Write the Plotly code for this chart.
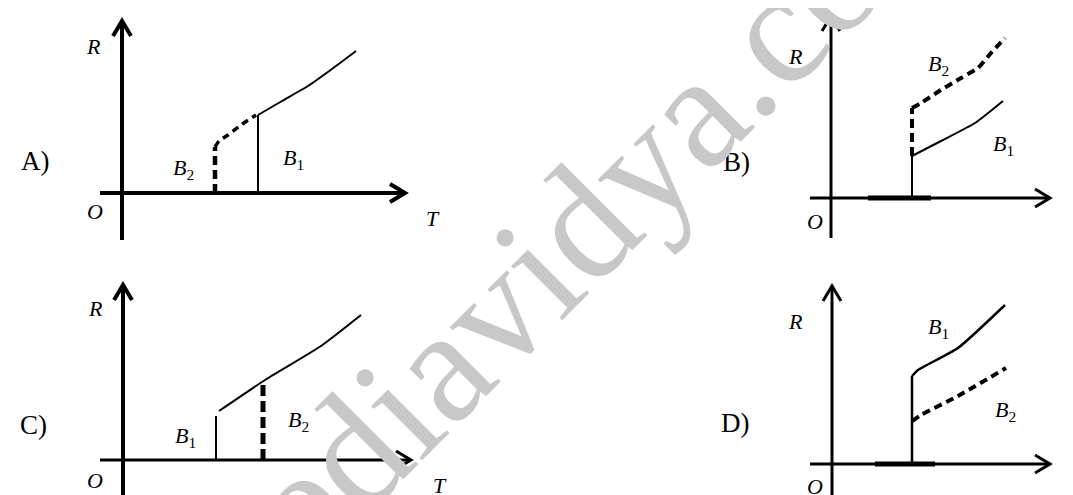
import plotly.graph_objects as go

W, H = 1073, 495

# ---------------- data (T, R) per panel, origin at axes crossing ----------------
panels = ["A)", "B)", "C)", "D)"]

# axis extents
A_axis_T = [-22, 283]; A_axis_R = [-47, 172]
B_axis_T = [-21, 219]; B_axis_R = [-40, 182]
C_axis_T = [-23, 288]; C_axis_R = [-43, 175]
D_axis_T = [-22, 218]; D_axis_R = [-39, 178]

# panel A
A_b1v_T = [136, 136]
A_b1v_R = [0, 78]
A_b1c_T = [136, 160, 186, 210, 234]
A_b1c_R = [78, 92, 107, 124, 142]
A_b2v_T = [93, 93]
A_b2v_R = [0, 46]
A_b2c_T = [93, 97, 106, 119, 134]
A_b2c_R = [46, 52, 58, 68, 78]

# panel B
B_flat_T = [37, 100]
B_b1v_T = [81, 81]
B_b1v_R = [0, 42]
B_b1c_T = [81, 110, 144, 172]
B_b1c_R = [42, 57, 75, 97]
B_b2v_T = [81, 81]
B_b2v_R = [42, 90]
B_b2c_T = [81, 90, 110, 130, 147, 160, 174]
B_b2c_R = [90, 95, 108, 120, 130, 145, 160]

# panel C
C_b1v_T = [93, 93]
C_b1v_R = [0, 44]
C_b1c_T = [96, 142, 198, 238]
C_b1c_R = [49, 80, 114, 145]
C_b2_T = [140, 140]
C_b2_R = [0, 79]

# panel D
D_flat_T = [43, 103]
D_b1v_T = [80, 80]
D_b1v_R = [0, 88]
D_b1c_T = [80, 86, 126, 173]
D_b1c_R = [88, 94, 116, 159]
D_b2_T = [80, 89, 126, 174]
D_b2_R = [43, 49, 68, 96]

# label positions (T, R)
labels = {
    1: [("<i>R</i>", -29, 147), ("<i>O</i>", -27, -18), ("<i>T</i>", 311, -25),
        ("A)", -87, 32), ("<i>B</i><sub>2</sub>", 61, 24), ("<i>B</i><sub>1</sub>", 171, 34)],
    2: [("<i>R</i>", -36, 142), ("<i>O</i>", -16, -23), ("<i>T</i>", 244, -23),
        ("B)", -95, 36), ("<i>B</i><sub>2</sub>", 107, 133), ("<i>B</i><sub>1</sub>", 172, 53)],
    3: [("<i>R</i>", -28, 152), ("<i>O</i>", -28, -20), ("<i>T</i>", 317, -25),
        ("C)", -90, 35), ("<i>B</i><sub>1</sub>", 62, 23), ("<i>B</i><sub>2</sub>", 175, 39)],
    4: [("<i>R</i>", -37, 143), ("<i>O</i>", -17, -22), ("<i>T</i>", 243, -22),
        ("D)", -97, 41), ("<i>B</i><sub>1</sub>", 106, 136), ("<i>B</i><sub>2</sub>", 173, 53)],
}

# page-pixel origin of each panel (layout only)
origins = {1: (114, 185), 2: (823, 190), 3: (115, 452), 4: (824, 456)}
axis_w = {1: (4, 4), 2: (3, 3), 3: (3, 4), 4: (3, 3)}  # (horizontal, vertical)

fig = go.Figure()


def ax(n):
    return ("x" if n == 1 else f"x{n}"), ("y" if n == 1 else f"y{n}")


def line(n, T, R, width=2, dash=None, smooth=False):
    xa, ya = ax(n)
    ln = dict(color="black", width=width, dash=dash)
    if smooth:
        ln.update(shape="spline", smoothing=0.5)
    fig.add_trace(go.Scatter(x=T, y=R, xaxis=xa, yaxis=ya, mode="lines", line=ln,
                             hoverinfo="skip", showlegend=False))


def axes(n, TT, RR):
    wh, wv = axis_w[n]
    line(n, TT, [0, 0], wh)
    line(n, [0, 0], RR, wv)
    a, b = 15, 9
    line(n, [TT[1] - a, TT[1], TT[1] - a], [b, 0, -b], wh)
    line(n, [-b, 0, b], [RR[1] - a, RR[1], RR[1] - a], wv)


# panel A
axes(1, A_axis_T, A_axis_R)
line(1, A_b1v_T, A_b1v_R, 2)
line(1, A_b1c_T, A_b1c_R, 2, smooth=True)
line(1, A_b2v_T, A_b2v_R, 4.5, "9px,5px")
line(1, A_b2c_T, A_b2c_R, 3.5, "7px,5px", smooth=True)

# panel B
axes(2, B_axis_T, B_axis_R)
line(2, B_flat_T, [0, 0], 5)
line(2, B_b1v_T, B_b1v_R, 2)
line(2, B_b1c_T, B_b1c_R, 2, smooth=True)
line(2, B_b2v_T, B_b2v_R, 4, "9px,5px")
line(2, B_b2c_T, B_b2c_R, 4, "8px,5px", smooth=True)

# panel C
axes(3, C_axis_T, C_axis_R)
line(3, C_b1v_T, C_b1v_R, 2)
line(3, C_b1c_T, C_b1c_R, 2, smooth=True)
line(3, C_b2_T, C_b2_R, 5, "11px,5px")

# panel D
axes(4, D_axis_T, D_axis_R)
line(4, D_flat_T, [0, 0], 5)
line(4, D_b1v_T, D_b1v_R, 2.5)
line(4, D_b1c_T, D_b1c_R, 2.5, smooth=True)
line(4, D_b2_T, D_b2_R, 4, "8px,5px", smooth=True)

annotations = []
for n, labs in labels.items():
    xa, ya = ax(n)
    for txt, t, r in labs:
        is_panel = txt in panels
        annotations.append(dict(
            text=txt, x=t, y=r, xref=xa, yref=ya, showarrow=False,
            xanchor="center", yanchor="middle",
            font=dict(family="Liberation Serif", size=27 if is_panel else 22, color="black")))

# watermark
annotations.append(dict(
    text="mediavidya.com", x=556 / W, y=1 - 234 / H, xref="paper", yref="paper",
    showarrow=False, textangle=-45, xanchor="center", yanchor="middle",
    font=dict(family="Liberation Serif", size=162, color="#c8c8c8")))

layout = dict(width=W, height=H, autosize=False,
              margin=dict(l=0, r=0, t=0, b=0),
              paper_bgcolor="white", plot_bgcolor="rgba(0,0,0,0)",
              showlegend=False, annotations=annotations)

for n, (ox, oy) in origins.items():
    xa, ya = ax(n)
    xk = "xaxis" if n == 1 else f"xaxis{n}"
    yk = "yaxis" if n == 1 else f"yaxis{n}"
    layout[xk] = dict(domain=[0, 1], range=[-ox, W - ox], visible=False, fixedrange=True, anchor=ya)
    layout[yk] = dict(domain=[0, 1], range=[-(H - oy), oy], visible=False, fixedrange=True, anchor=xa)

fig.update_layout(**layout)
fig.write_html("out.html")
